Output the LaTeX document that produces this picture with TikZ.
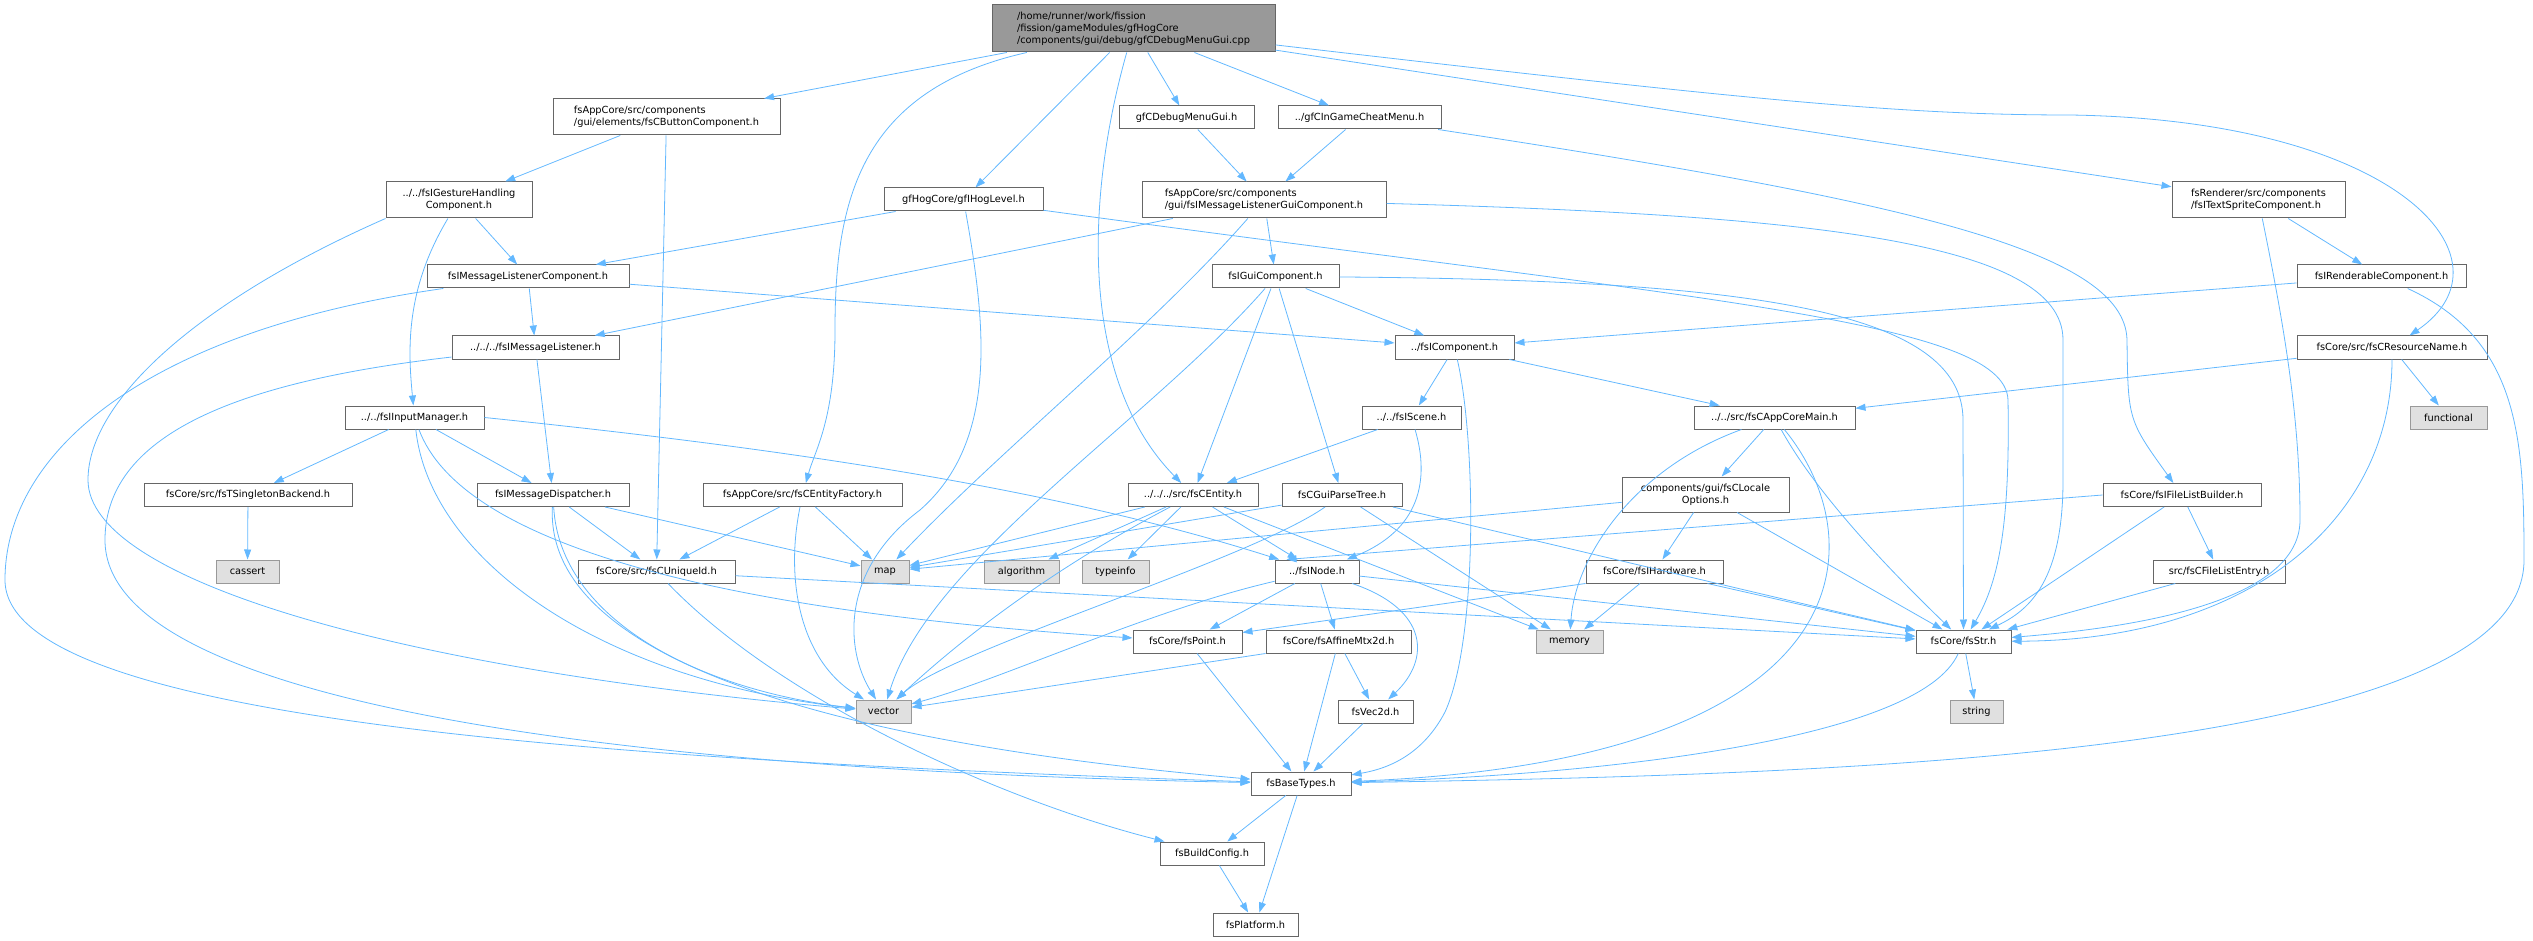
\documentclass[tikz,border=0pt]{standalone}
\usepackage{fontspec}
\setmainfont{DejaVu Sans}
\usetikzlibrary{arrows.meta}

\definecolor{edgeblue}{HTML}{63B8FF}
\definecolor{boxline}{HTML}{666666}
\definecolor{sysline}{HTML}{999999}
\definecolor{sysfill}{HTML}{E0E0E0}
\definecolor{rootfill}{HTML}{999999}

\tikzset{
  hdr/.style={draw=boxline, fill=white, line width=1pt, minimum height=23pt,
    inner sep=0pt, font=\fontsize{9.8}{11.8}\selectfont},
  twoline/.style={hdr, minimum height=36pt},
  sys/.style={hdr, draw=sysline, fill=sysfill},
  top/.style={hdr, fill=rootfill, minimum height=47pt, align=left},
  dep/.style={draw=edgeblue, line width=0.8pt, -{Triangle[length=10pt,width=7pt]}},
}

\begin{document}
\begin{tikzpicture}[x=1pt,y=-1pt]
  \useasboundingbox (0,0) rectangle (2533,941);

  % headers, row by row
  \node[top, minimum width=283pt] (root) at (1133.5,28.5)
    {/home/runner/work/fission\\/fission/gameModules/gfHogCore\\/components/gui/debug/gfCDebugMenuGui.cpp};

  \node[twoline, minimum width=227pt, align=left] (btn) at (666.5,117)
    {fsAppCore/src/components\\/gui/elements/fsCButtonComponent.h};
  \node[hdr, minimum width=135pt] (dbg) at (1186.5,117.5) {gfCDebugMenuGui.h};
  \node[hdr, minimum width=163pt] (cheat) at (1359.5,117.5) {../gfCInGameCheatMenu.h};

  \node[twoline, minimum width=146pt, align=center] (gesture) at (459,200)
    {../../fsIGestureHandling\\Component.h};
  \node[hdr, minimum width=159pt] (hoglevel) at (963.5,199.5) {gfHogCore/gfIHogLevel.h};
  \node[twoline, minimum width=244pt, align=left] (mlgc) at (1264,200)
    {fsAppCore/src/components\\/gui/fsIMessageListenerGuiComponent.h};
  \node[twoline, minimum width=173pt, align=left] (sprite) at (2258.5,200)
    {fsRenderer/src/components\\/fsITextSpriteComponent.h};

  \node[hdr, minimum width=202pt] (mlc) at (528,276.5) {fsIMessageListenerComponent.h};
  \node[hdr, minimum width=127pt] (guicomp) at (1275.5,276.5) {fsIGuiComponent.h};
  \node[hdr, minimum width=169pt] (renderable) at (2381.5,276.5) {fsIRenderableComponent.h};

  \node[hdr, minimum width=167pt] (mlistener) at (535.5,347.5) {../../../fsIMessageListener.h};
  \node[hdr, minimum width=119pt] (icomp) at (1454.5,347.5) {../fsIComponent.h};
  \node[hdr, minimum width=190pt] (resname) at (2392,347.5) {fsCore/src/fsCResourceName.h};

  \node[hdr, minimum width=139pt] (inputmgr) at (414.5,417.5) {../../fsIInputManager.h};
  \node[hdr, minimum width=99pt] (scene) at (1411.5,417.5) {../../fsIScene.h};
  \node[hdr, minimum width=161pt] (appcore) at (1774.5,417.5) {../../src/fsCAppCoreMain.h};
  \node[sys, minimum width=77pt] (functional) at (2448.5,417.5) {functional};

  \node[hdr, minimum width=208pt] (singleton) at (248,495) {fsCore/src/fsTSingletonBackend.h};
  \node[hdr, minimum width=152pt] (dispatcher) at (553,495) {fsIMessageDispatcher.h};
  \node[hdr, minimum width=199pt] (entfactory) at (802.5,495) {fsAppCore/src/fsCEntityFactory.h};
  \node[hdr, minimum width=130pt] (entity) at (1193,495) {../../../src/fsCEntity.h};
  \node[hdr, minimum width=120pt] (parsetree) at (1342,495) {fsCGuiParseTree.h};
  \node[twoline, minimum width=167pt, minimum height=35pt, align=center] (locale) at (1705.5,494.5)
    {components/gui/fsCLocale\\Options.h};
  \node[hdr, minimum width=158pt] (filelist) at (2182,495) {fsCore/fsIFileListBuilder.h};

  \node[sys, minimum width=63pt] (cassert) at (247.5,571.5) {cassert};
  \node[hdr, minimum width=157pt] (uniqueid) at (656.5,571.5) {fsCore/src/fsCUniqueId.h};
  \node[sys, minimum width=48pt] (map) at (885,571.5) {map};
  \node[sys, minimum width=75pt] (algorithm) at (1021.5,571.5) {algorithm};
  \node[sys, minimum width=67pt] (typeinfo) at (1115.5,571.5) {typeinfo};
  \node[hdr, minimum width=84pt] (inode) at (1317,571.5) {../fsINode.h};
  \node[hdr, minimum width=137pt] (hardware) at (1654.5,571.5) {fsCore/fsIHardware.h};
  \node[hdr, minimum width=132pt] (fileentry) at (2219,571.5) {src/fsCFileListEntry.h};

  \node[hdr, minimum width=109pt] (point) at (1187.5,641.5) {fsCore/fsPoint.h};
  \node[hdr, minimum width=145pt] (affine) at (1338.5,641.5) {fsCore/fsAffineMtx2d.h};
  \node[sys, minimum width=67pt] (memory) at (1569.5,641.5) {memory};
  \node[hdr, minimum width=95pt] (str) at (1963.5,641.5) {fsCore/fsStr.h};

  \node[sys, minimum width=55pt] (vector) at (883.5,711.5) {vector};
  \node[hdr, minimum width=75pt] (vec2d) at (1375.5,711.5) {fsVec2d.h};
  \node[sys, minimum width=53pt] (string) at (1976.5,711.5) {string};

  \node[hdr, minimum width=100pt] (basetypes) at (1301,783.5) {fsBaseTypes.h};
  \node[hdr, minimum width=104pt] (buildconfig) at (1212,853.5) {fsBuildConfig.h};
  \node[hdr, minimum width=85pt] (platform) at (1255.5,924.5) {fsPlatform.h};

  % root
  \draw[dep] (root) -- (btn);
  \draw[dep] (root) .. controls (860,90) and (835,200) .. (835,330) .. controls (835,420) and (815,450) .. (entfactory);
  \draw[dep] (root) -- (hoglevel);
  \draw[dep] (root) .. controls (1085,200) and (1080,380) .. (entity);
  \draw[dep] (root) -- (dbg);
  \draw[dep] (root) -- (cheat);
  \draw[dep] (root) -- (sprite);
  \draw[dep] (root) .. controls (1750,100) and (1900,115) .. (2070,115) .. controls (2400,120) and (2520,260) .. (resname);

  % row 1
  \draw[dep] (btn) -- (gesture);
  \draw[dep] (btn) -- (uniqueid);
  \draw[dep] (dbg) -- (mlgc);
  \draw[dep] (cheat) -- (mlgc);
  \draw[dep] (cheat) .. controls (1900,200) and (2125,250) .. (2127,340) .. controls (2128,420) .. (filelist);

  % row 2
  \draw[dep] (gesture) -- (mlc);
  \draw[dep] (gesture) .. controls (405,290) and (408,350) .. (inputmgr);
  \draw[dep] (gesture.south west) .. controls (200,300) and (88,400) .. (88,480) .. controls (88,580) and (400,670) .. (vector);
  \draw[dep] (hoglevel) -- (mlc);
  \draw[dep] (hoglevel) .. controls (985,320) and (1000,440) .. (920,510) .. controls (840,570) and (845,650) .. (vector);
  \draw[dep] (hoglevel) .. controls (1700,300) and (2005,320) .. (2008,400) .. controls (2010,520) and (2000,580) .. (str);
  \draw[dep] (mlgc) -- (mlistener);
  \draw[dep] (mlgc) -- (guicomp);
  \draw[dep] (mlgc) .. controls (1150,330) and (1000,450) .. (map);
  \draw[dep] (mlgc) .. controls (1800,215) and (2063,240) .. (2063,340) -- (2063,480) .. controls (2063,580) and (2030,610) .. (str);
  \draw[dep] (sprite) -- (renderable);
  \draw[dep] (sprite) .. controls (2285,330) and (2300,420) .. (2300,520) .. controls (2300,610) and (2100,630) .. (str);

  % row 3
  \draw[dep] (mlc) -- (mlistener);
  \draw[dep] (mlc) -- (icomp);
  \draw[dep] (mlc) .. controls (150,330) and (5,450) .. (5,580) .. controls (5,720) and (600,760) .. (basetypes);
  \draw[dep] (guicomp) -- (icomp);
  \draw[dep] (guicomp) -- (entity);
  \draw[dep] (guicomp) -- (parsetree);
  \draw[dep] (guicomp) .. controls (1150,420) and (930,560) .. (vector);
  \draw[dep] (guicomp) .. controls (1750,280) and (1963,310) .. (1963,420) -- (str);
  \draw[dep] (renderable) -- (icomp);
  \draw[dep] (renderable) .. controls (2520,340) and (2524,440) .. (2524,560) .. controls (2524,760) and (1800,775) .. (basetypes);

  % row 4
  \draw[dep] (mlistener) -- (dispatcher);
  \draw[dep] (mlistener) .. controls (250,380) and (105,430) .. (105,540) .. controls (105,700) and (600,770) .. (basetypes);
  \draw[dep] (icomp) -- (scene);
  \draw[dep] (icomp) -- (appcore);
  \draw[dep] (icomp) .. controls (1476,440) and (1478,640) .. (1445,712) .. controls (1420,760) and (1380,770) .. (basetypes);
  \draw[dep] (resname) -- (appcore);
  \draw[dep] (resname) -- (functional);
  \draw[dep] (resname) .. controls (2392,520) and (2250,640) .. (str);

  % row 5
  \draw[dep] (inputmgr) -- (singleton);
  \draw[dep] (inputmgr) -- (dispatcher);
  \draw[dep] (inputmgr) .. controls (430,560) and (600,680) .. (vector);
  \draw[dep] (inputmgr) .. controls (460,540) and (700,610) .. (point);
  \draw[dep] (inputmgr.east) .. controls (800,450) and (1060,490) .. (inode);
  \draw[dep] (scene) -- (entity);
  \draw[dep] (scene) .. controls (1430,480) and (1420,530) .. (inode);
  \draw[dep] (appcore) -- (locale);
  \draw[dep] (appcore) .. controls (1630,470) and (1575,560) .. (memory);
  \draw[dep] (appcore) .. controls (1820,500) and (1900,580) .. (str);
  \draw[dep] (appcore) .. controls (1875,540) and (1870,760) .. (basetypes);

  % row 6
  \draw[dep] (singleton) -- (cassert);
  \draw[dep] (dispatcher) -- (uniqueid);
  \draw[dep] (dispatcher) -- (map);
  \draw[dep] (dispatcher) .. controls (560,620) and (700,690) .. (vector);
  \draw[dep] (dispatcher) .. controls (545,650) and (800,740) .. (basetypes);
  \draw[dep] (entfactory) -- (uniqueid);
  \draw[dep] (entfactory) -- (map);
  \draw[dep] (entfactory) .. controls (785,580) and (800,660) .. (vector);
  \draw[dep] (entity) -- (map);
  \draw[dep] (entity) -- (algorithm);
  \draw[dep] (entity) -- (typeinfo);
  \draw[dep] (entity) -- (inode);
  \draw[dep] (entity) -- (memory);
  \draw[dep] (entity) .. controls (1050,570) and (960,640) .. (vector);
  \draw[dep] (parsetree) -- (map);
  \draw[dep] (parsetree) .. controls (1250,560) and (950,650) .. (vector);
  \draw[dep] (parsetree) -- (memory);
  \draw[dep] (parsetree) -- (str);
  \draw[dep] (locale) -- (map);
  \draw[dep] (locale) -- (hardware);
  \draw[dep] (locale) -- (str);
  \draw[dep] (filelist.west) -- ([xshift=12pt]inode.north west);
  \draw[dep] (filelist) -- (fileentry);
  \draw[dep] (filelist) -- (str);

  % row 7
  \draw[dep] (uniqueid) -- (str);
  \draw[dep] (uniqueid) .. controls (780,700) and (1000,800) .. (buildconfig);
  \draw[dep] (inode) -- (point);
  \draw[dep] (inode) -- (affine);
  \draw[dep] (inode) .. controls (1430,610) and (1430,660) .. (vec2d);
  \draw[dep] (inode) .. controls (1150,610) and (1000,680) .. (vector);
  \draw[dep] (inode) -- (str);
  \draw[dep] (hardware.south west) -- ([yshift=-3pt]point.north east);
  \draw[dep] (hardware) -- (memory);
  \draw[dep] (hardware) -- (str);
  \draw[dep] (fileentry) -- (str);

  % rows 8 to 11
  \draw[dep] (affine.south west) -- (vector);
  \draw[dep] (affine) -- (vec2d);
  \draw[dep] (affine) -- (basetypes);
  \draw[dep] (point) -- (basetypes);
  \draw[dep] (vec2d) -- (basetypes);
  \draw[dep] (str) -- (string);
  \draw[dep] (str) .. controls (1920,740) and (1600,775) .. (basetypes);
  \draw[dep] (basetypes) -- (buildconfig);
  \draw[dep] (basetypes) -- (platform);
  \draw[dep] (buildconfig) -- (platform);
\end{tikzpicture}
\end{document}
